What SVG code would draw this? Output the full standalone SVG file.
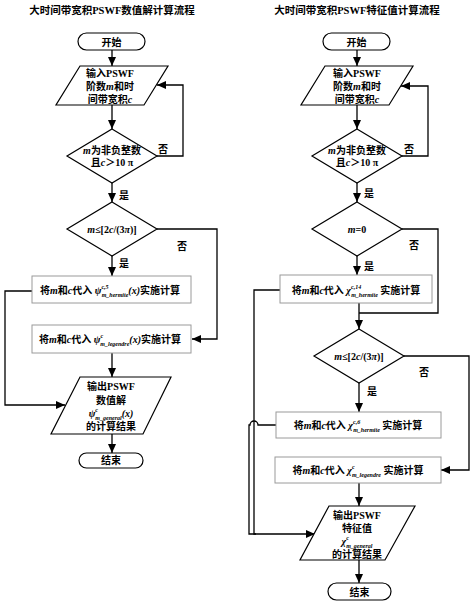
<svg xmlns="http://www.w3.org/2000/svg" width="474" height="605" viewBox="0 0 474 605">
<style>
text{font-family:"Liberation Serif","Noto Sans CJK SC",serif;font-weight:bold;font-size:10px;fill:#000;text-anchor:middle}
.t{font-size:10.5px}
.i{font-style:italic}
.sm{font-size:6px;font-style:italic}
.sh{fill:#fff;stroke:#000;stroke-width:1.2}
.bx{fill:#fff;stroke:#9a9a9a;stroke-width:1}
.c{fill:none;stroke:#000;stroke-width:1.3}
.ar{marker-end:url(#ah)}
</style>
<defs>
<marker id="ah" markerWidth="9" markerHeight="8" refX="9" refY="4" orient="auto" markerUnits="userSpaceOnUse"><path d="M0,0 L9,4 L0,8 z" fill="#000"/></marker>
</defs>
<rect width="474" height="605" fill="#fff"/>
<text class="t" x="112" y="14">大时间带宽积PSWF数值解计算流程</text>
<text class="t" x="357" y="14">大时间带宽积PSWF特征值计算流程</text>

<g id="connectors">
<path class="c ar" d="M112,50 V66"/>
<path class="c ar" d="M112,105 V129"/>
<path class="c ar" d="M157,156 H183 V85 H157"/>
<path class="c ar" d="M112,183 V202"/>
<path class="c ar" d="M157,229 H217 V339 H192"/>
<path class="c ar" d="M112,256 V276"/>
<path class="c ar" d="M32,291 H5 V405 H65"/>
<path class="c ar" d="M112,353 V377"/>
<path class="c ar" d="M112,434 V453"/>
<text x="163" y="153">否</text>
<text x="124" y="199">是</text>
<text x="182" y="250">否</text>
<text x="124" y="267">是</text>

<path class="c ar" d="M357,50 V66"/>
<path class="c ar" d="M357,105 V129"/>
<path class="c ar" d="M402,156 H428 V86 H401"/>
<path class="c ar" d="M357,183 V202"/>
<path class="c" d="M402,229 H438 V313 H359"/>
<path class="c ar" d="M357,256 V275"/>
<path class="c ar" d="M359,303 V329"/>
<path class="c ar" d="M280,290 H254 V534 H315"/>
<path class="c ar" d="M404,356 H469 V470 H441"/>
<path class="c ar" d="M359,383 V412"/>
<path class="c" d="M276,425 H258 A4,4 0 0 0 250,425 H249 V534 H256"/>
<path class="c ar" d="M359,483 V506"/>
<path class="c ar" d="M359,560 V583"/>
<text x="409" y="153">否</text>
<text x="369" y="197">是</text>
<text x="414" y="249">否</text>
<text x="369" y="270">是</text>
<text x="424" y="376">否</text>
<text x="372" y="395">是</text>
</g>

<g id="L-start"><rect class="sh" x="78" y="33" width="67" height="17" rx="8.5"/><text x="111.5" y="45.5">开始</text></g>
<g id="L-input"><polygon class="sh" points="80,66 168,66 144,105 56,105"/>
<text x="110" y="77">输入PSWF</text><text x="110" y="90">阶数<tspan class="i">m</tspan>和时</text><text x="110" y="103">间带宽积<tspan class="i">c</tspan></text></g>
<g id="L-cond1"><polygon class="sh" points="112,129 157,156 112,183 67,156"/>
<text x="112" y="154"><tspan class="i">m</tspan>为非负整数</text><text x="112" y="166">且<tspan class="i">c</tspan>＞10 π</text></g>
<g id="L-cond2"><polygon class="sh" points="112,202 157,229 112,256 67,229"/>
<text x="112" y="233"><tspan class="i">m</tspan>≤[2<tspan class="i">c</tspan>/(3<tspan class="i">π</tspan>)]</text></g>
<g id="L-hermite"><rect class="bx" x="32" y="276" width="159" height="27"/>
<text x="110" y="294">将<tspan class="i">m</tspan>和<tspan class="i">c</tspan>代入 <tspan class="i">ψ</tspan><tspan class="sm" dy="-5">c,5</tspan><tspan class="sm" dx="-7" dy="8">m_hermite</tspan><tspan class="i" dy="-3">(x)</tspan>实施计算</text></g>
<g id="L-legendre"><rect class="bx" x="32" y="325" width="159" height="28"/>
<text x="110" y="343">将<tspan class="i">m</tspan>和<tspan class="i">c</tspan>代入 <tspan class="i">ψ</tspan><tspan class="sm" dy="-5">c</tspan><tspan class="sm" dx="-2.7" dy="8">m_legendre</tspan><tspan class="i" dy="-3">(x)</tspan>实施计算</text></g>
<g id="L-output"><polygon class="sh" points="80,377 171,377 143,434 51,434"/>
<text x="111" y="390">输出PSWF</text><text x="111" y="404">数值解</text>
<text x="111" y="417"><tspan class="i">ψ</tspan><tspan class="sm" dy="-5">c</tspan><tspan class="sm" dx="-2.7" dy="8">m_general</tspan><tspan class="i" dy="-3">(x)</tspan></text>
<text x="111" y="430">的计算结果</text></g>
<g id="L-end"><rect class="sh" x="79" y="453" width="64" height="15" rx="7.5"/><text x="111" y="464">结束</text></g>

<g id="R-start"><rect class="sh" x="323" y="33" width="67" height="17" rx="8.5"/><text x="356.5" y="45.5">开始</text></g>
<g id="R-input"><polygon class="sh" points="325,66 413,66 389,105 301,105"/>
<text x="357" y="77">输入PSWF</text><text x="357" y="90">阶数<tspan class="i">m</tspan>和时</text><text x="357" y="103">间带宽积<tspan class="i">c</tspan></text></g>
<g id="R-cond1"><polygon class="sh" points="357,129 402,156 357,183 312,156"/>
<text x="357" y="154"><tspan class="i">m</tspan>为非负整数</text><text x="357" y="166">且<tspan class="i">c</tspan>＞10 π</text></g>
<g id="R-cond2"><polygon class="sh" points="357,202 402,229 357,256 312,229"/>
<text x="357" y="233"><tspan class="i">m</tspan>=0</text></g>
<g id="R-hermite14"><rect class="bx" x="280" y="275" width="152" height="28"/>
<text x="356" y="294">将<tspan class="i">m</tspan>和<tspan class="i">c</tspan>代入 <tspan class="i">χ</tspan><tspan class="sm" dy="-5">c,14</tspan><tspan class="sm" dx="-10" dy="8">m_hermite</tspan><tspan dy="-3"> 实施计算</tspan></text></g>
<g id="R-cond3"><polygon class="sh" points="359,329 404,356 359,383 314,356"/>
<text x="359" y="360"><tspan class="i">m</tspan>≤[2<tspan class="i">c</tspan>/(3<tspan class="i">π</tspan>)]</text></g>
<g id="R-hermite6"><rect class="bx" x="276" y="412" width="165" height="26"/>
<text x="358" y="429">将<tspan class="i">m</tspan>和<tspan class="i">c</tspan>代入 <tspan class="i">χ</tspan><tspan class="sm" dy="-5">c,6</tspan><tspan class="sm" dx="-7" dy="8">m_hermite</tspan><tspan dy="-3"> 实施计算</tspan></text></g>
<g id="R-legendre"><rect class="bx" x="275" y="457" width="166" height="26"/>
<text x="358" y="474">将<tspan class="i">m</tspan>和<tspan class="i">c</tspan>代入 <tspan class="i">χ</tspan><tspan class="sm" dy="-5">c</tspan><tspan class="sm" dx="-2.7" dy="8">m_legendre</tspan><tspan dy="-3"> 实施计算</tspan></text></g>
<g id="R-output"><polygon class="sh" points="329,506 415,506 385,560 300,560"/>
<text x="357" y="518.5">输出PSWF</text><text x="357" y="531.5">特征值</text>
<text x="357" y="545"><tspan class="i">χ</tspan><tspan class="sm" dy="-5">c</tspan><tspan class="sm" dx="-2.7" dy="8">m_general</tspan></text>
<text x="357" y="558">的计算结果</text></g>
<g id="R-end"><rect class="sh" x="328" y="583" width="63" height="17" rx="8.5"/><text x="359.5" y="595.5">结束</text></g>
</svg>
